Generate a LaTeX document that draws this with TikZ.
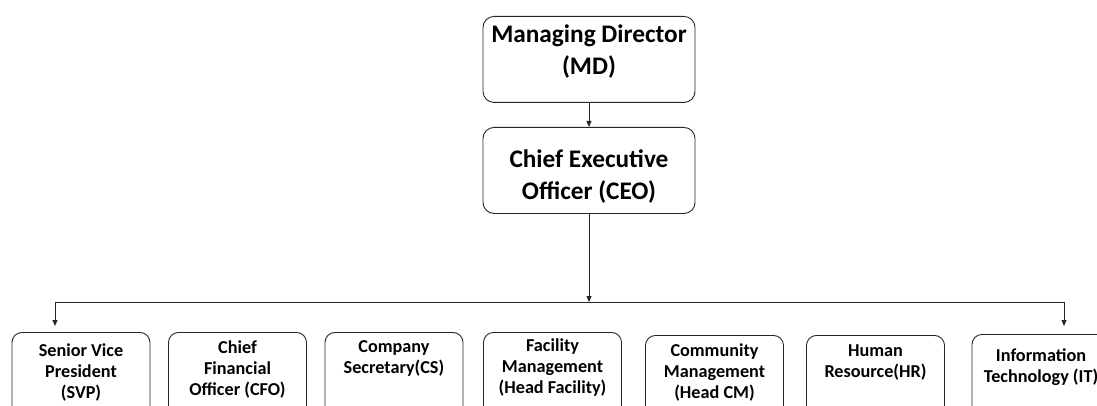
\documentclass[tikz,border=0pt]{standalone}
\usepackage{fontspec}
\setmainfont{Carlito}
\usetikzlibrary{arrows.meta}
\begin{document}
\begin{tikzpicture}[x=1pt,y=-1pt,
  topbox/.style={draw=black!85, line width=0.9pt, rounded corners=11pt, minimum width=212pt, minimum height=86pt, anchor=north, inner sep=0pt},
  subbox/.style={draw=black!85, line width=0.9pt, rounded corners=10pt, minimum width=138pt, minimum height=90pt, anchor=north, inner sep=0pt},
  toptext/.style={font=\fontsize{25.3}{32}\selectfont\bfseries, align=center, text=black, anchor=base, inner sep=0pt},
  subtext/.style={font=\fontsize{18.2}{21}\selectfont\bfseries, align=center, text=black, anchor=base, inner sep=0pt},
  conn/.style={draw=black!85, line width=0.8pt},
  arr/.style={conn, -{Triangle[length=6pt,width=5pt]}}]
\useasboundingbox (0,0) rectangle (1097,406);
\clip (0,0) rectangle (1097,406);
% top boxes
\node[topbox] (md) at (589,16) {};
\node[toptext] (mdt) at (589,75) {Managing Director\\(MD)};
\node[topbox] (ceo) at (589,127) {};
\node[toptext] (ceot) at (589,200) {Chief Executive\\Officer (CEO)};
% bottom boxes
\node[subbox] (svp) at (81,332) {};
\node[subtext] (svpt) at (81,398) {Senior Vice\\President\\(SVP)};
\node[subbox] (cfo) at (237.5,332) {};
\node[subtext] (cfot) at (237.5,395) {Chief\\Financial\\Officer (CFO)};
\node[subbox] (cs) at (394,332) {};
\node[subtext] (cst) at (394,373) {Company\\Secretary(CS)};
\node[subbox] (fm) at (552.5,332) {};
\node[subtext] (fmt) at (552.5,393) {Facility\\Management\\(Head Facility)};
\node[subbox] (cm) at (714.5,335) {};
\node[subtext] (cmt) at (714.5,398) {Community\\Management\\(Head CM)};
\node[subbox] (hr) at (875.5,335) {};
\node[subtext] (hrt) at (875.5,377) {Human\\Resource(HR)};
\node[subbox] (it) at (1041,334) {};
\node[subtext] (itt) at (1041,382) {Information\\Technology (IT)};
% connectors
\coordinate (bar) at (589,302);
\coordinate (barl) at (55,302);
\coordinate (barr) at (1064,302);
\draw[arr] (md.south) -- (ceo.north);
\draw[arr] (ceo.south) -- (bar);
\draw[conn] (barl) -- (barr);
\draw[arr, shorten >=6pt] (barl) -- (barl |- svp.north);
\draw[arr, shorten >=8pt] (barr) -- (barr |- it.north);
\end{tikzpicture}
\end{document}
